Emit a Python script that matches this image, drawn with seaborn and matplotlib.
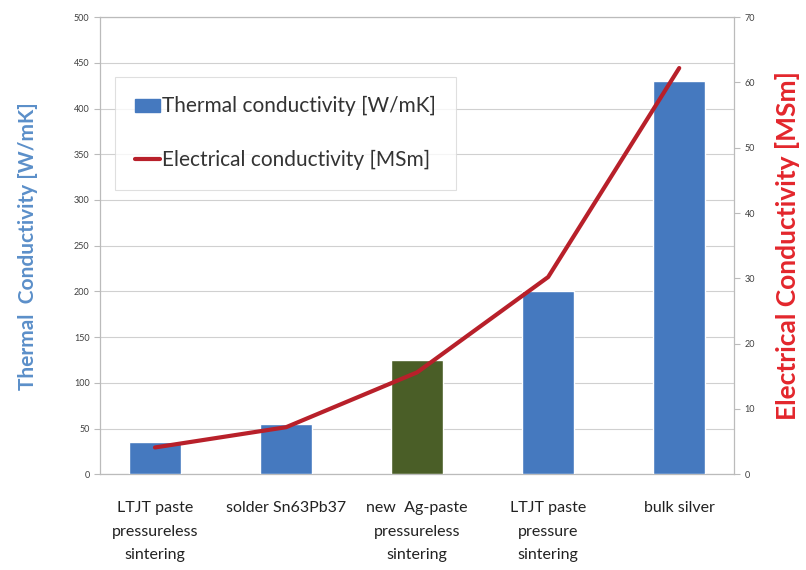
import matplotlib
matplotlib.use("Agg")
import matplotlib.pyplot as plt
import pandas as pd
import seaborn as sns
from matplotlib.lines import Line2D
from matplotlib.patches import Patch

# ---------------- data ----------------
MATERIALS = [
    "LTJT paste\npressureless\nsintering",
    "solder Sn63Pb37",
    "new  Ag-paste\npressureless\nsintering",
    "LTJT paste\npressure\nsintering",
    "bulk silver",
]
THERMAL = [35, 55, 125, 200, 430]          # W/mK
ELECTRICAL = [4.1, 7.2, 15.6, 30.2, 62.2]  # MSm
BAR_GROUP = ["ref", "ref", "new", "ref", "ref"]

BLUE = "#4579BF"
GREEN = "#4A5E27"
RED = "#B8202A"
LABEL_BLUE = "#5B8FC9"
LABEL_RED = "#E3262C"

df = pd.DataFrame({"material": MATERIALS, "thermal": THERMAL,
                   "electrical": ELECTRICAL, "group": BAR_GROUP})

sns.set_style("white")
plt.rcParams["font.family"] = ["Lato", "DejaVu Sans"]

fig, ax = plt.subplots(figsize=(8.06, 5.70), dpi=100)
fig.subplots_adjust(left=0.124, right=0.911, top=0.970, bottom=0.168)

sns.barplot(data=df, x="material", y="thermal", hue="group",
            palette={"ref": BLUE, "new": GREEN}, dodge=False, width=0.40,
            saturation=1, legend=False, ax=ax, zorder=3)
ax.set_ylim(0, 500)
ax.set_yticks(range(0, 501, 50))
ax.yaxis.grid(True, color="#D0D0D0", lw=0.8, zorder=0)
ax.set_axisbelow(True)
ax.set_xlabel("")
ax.set_ylabel("Thermal  Conductivity [W/mK]", color=LABEL_BLUE,
              fontsize=15, fontweight="bold", labelpad=26)
ax.tick_params(axis="y", labelsize=6.5, labelcolor="#404040", length=4,
               color="#BBBBBB", direction="out")
ax.tick_params(axis="x", labelsize=11.5, labelcolor="#222222", length=0, pad=19)
for t in ax.get_xticklabels():
    t.set_linespacing(1.9)
for s in ax.spines.values():
    s.set_color("#BBBBBB")
    s.set_linewidth(0.9)

ax2 = ax.twinx()
sns.lineplot(x=range(len(MATERIALS)), y=ELECTRICAL, color=RED, lw=3,
             ax=ax2, zorder=4)
ax2.set_ylim(0, 70)
ax2.set_yticks(range(0, 71, 10))
ax2.set_ylabel("Electrical Conductivity [MSm]", color=LABEL_RED,
               fontsize=19, fontweight="bold", labelpad=14)
ax2.tick_params(axis="y", labelsize=6.5, labelcolor="#404040", length=4,
                color="#BBBBBB", direction="out")
for s in ax2.spines.values():
    s.set_visible(False)

handles = [Patch(facecolor=BLUE, edgecolor=BLUE),
           Line2D([0], [0], color=RED, lw=3)]
labels = ["Thermal conductivity [W/mK]", "Electrical conductivity [MSm]"]
leg = ax2.legend(handles, labels, loc="upper left", bbox_to_anchor=(0.024, 0.87),
                 fontsize=15, frameon=True, fancybox=False, edgecolor="#D8D8D8",
                 handlelength=1.2, handleheight=0.6, handletextpad=0.1,
                 labelspacing=1.6, borderpad=0.95, borderaxespad=0)
for t in leg.get_texts():
    t.set_color("#333333")
leg.get_frame().set_linewidth(0.8)

fig.savefig("out.png", dpi=100)
